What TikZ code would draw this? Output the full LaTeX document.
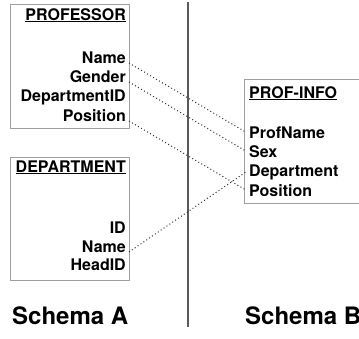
\documentclass[tikz,border=0pt]{standalone}
\usepackage{fontspec}
\setmainfont{TeX Gyre Heros}
\newcommand{\tabletitle}[1]{\underline{#1}}
\begin{document}
\begin{tikzpicture}[x=1pt, y=-1pt,
    attr/.style={font=\fontsize{16}{19}\selectfont\bfseries, inner ysep=0pt, inner xsep=3pt},
    schema/.style={font=\fontsize{24}{28}\selectfont\bfseries, inner sep=0pt, anchor=base west},
    tablebox/.style={draw=gray!75, line width=0.8pt},
    link/.style={dash pattern=on 1pt off 2.5pt, line width=1pt, black!80}]
  \useasboundingbox (0,0) rectangle (359,338);
  \clip (0,0) rectangle (359,338);

  % Schema A: PROFESSOR
  \draw[tablebox] (10,4) rectangle (129,128);
  \node[attr, anchor=base east] (prof) at (129,20) {\tabletitle{PROFESSOR}};
  \node[attr, anchor=base east] (pname) at (129,63) {Name};
  \node[attr, anchor=base east] (pgender) at (129,82) {Gender};
  \node[attr, anchor=base east] (pdept) at (129,101) {DepartmentID};
  \node[attr, anchor=base east] (ppos) at (129,121) {Position};

  % Schema A: DEPARTMENT
  \draw[tablebox] (10,157) rectangle (129,280);
  \node[attr, anchor=base east] (dept) at (129,172) {\tabletitle{DEPARTMENT}};
  \node[attr, anchor=base east] (did) at (129,233) {ID};
  \node[attr, anchor=base east] (dname) at (129,252) {Name};
  \node[attr, anchor=base east] (dhead) at (129,270) {HeadID};

  % divider
  \draw[gray!70!black, line width=1.2pt] (188,2) -- (188,327);

  % Schema B: PROF-INFO
  \draw[tablebox] (244,79) rectangle (370,203);
  \node[attr, anchor=base west] (info) at (246,98) {\tabletitle{PROF-INFO}};
  \node[attr, anchor=base west] (iname) at (246,138) {ProfName};
  \node[attr, anchor=base west] (isex) at (246,157) {Sex};
  \node[attr, anchor=base west] (idept) at (246,176) {Department};
  \node[attr, anchor=base west] (ipos) at (246,196) {Position};

  % correspondences
  \draw[link] (pname.base east) -- (iname.west);
  \draw[link] (pgender.base east) -- (isex.west);
  \draw[link] (ppos.base east) -- (ipos.west);
  \draw[link] (dname.base east) -- (idept.west);

  \node[schema] (schemaA) at (12,324) {Schema A};
  \node[schema] (schemaB) at (245,324) {Schema B};
\end{tikzpicture}
\end{document}
